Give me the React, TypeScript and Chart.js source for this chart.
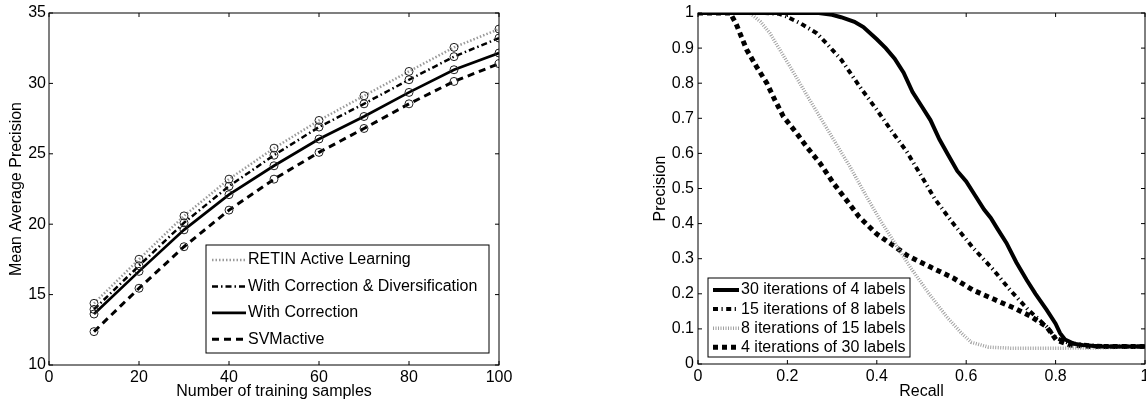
import { useEffect, useRef } from "react";
import { Chart, registerables } from "chart.js";

Chart.register(...registerables);

// ---------- Left chart data ----------
const trainSamples = [10, 20, 30, 40, 50, 60, 70, 80, 90, 100];
const retinMAP = [14.38, 17.51, 20.59, 23.2, 25.4, 27.37, 29.12, 30.85, 32.56, 33.86];
const corrDivMAP = [13.95, 17.05, 20.1, 22.7, 24.9, 26.9, 28.55, 30.26, 31.9, 33.22];
const corrMAP = [13.62, 16.65, 19.6, 22.1, 24.15, 26.05, 27.65, 29.36, 30.97, 32.16];
const svmMAP = [12.37, 15.45, 18.4, 21.0, 23.2, 25.1, 26.8, 28.55, 30.14, 31.4];
const leftLabels = [
  "RETIN Active Learning",
  "With Correction & Diversification",
  "With Correction",
  "SVMactive",
];
const leftXTicks = [0, 20, 40, 60, 80, 100];
const leftYTicks = [10, 15, 20, 25, 30, 35];

// ---------- Right chart data ----------
const recall30x4 = [0, 0.1, 0.2, 0.27, 0.3, 0.32, 0.35, 0.37, 0.4, 0.42, 0.44, 0.46, 0.48, 0.5, 0.52, 0.54, 0.56, 0.58, 0.6, 0.62, 0.64, 0.655, 0.67, 0.69, 0.712, 0.735, 0.755, 0.78, 0.8, 0.81, 0.821, 0.84, 0.86, 0.9, 0.95, 1.0];
const prec30x4 = [1, 1, 1, 1, 0.995, 0.988, 0.975, 0.96, 0.925, 0.9, 0.87, 0.83, 0.775, 0.735, 0.695, 0.64, 0.595, 0.55, 0.52, 0.48, 0.44, 0.416, 0.385, 0.345, 0.29, 0.24, 0.2, 0.154, 0.115, 0.088, 0.07, 0.058, 0.054, 0.05, 0.05, 0.05];
const recall15x8 = [0, 0.1, 0.15, 0.18, 0.198, 0.23, 0.266, 0.29, 0.321, 0.362, 0.4, 0.437, 0.467, 0.5, 0.53, 0.571, 0.616, 0.661, 0.698, 0.739, 0.76, 0.78, 0.8, 0.83, 0.87, 0.92, 1.0];
const prec15x8 = [1, 1, 1, 0.998, 0.99, 0.97, 0.942, 0.91, 0.866, 0.79, 0.724, 0.657, 0.605, 0.535, 0.47, 0.4, 0.33, 0.268, 0.211, 0.154, 0.13, 0.106, 0.075, 0.06, 0.054, 0.05, 0.05];
const recall8x15 = [0, 0.1, 0.116, 0.14, 0.161, 0.206, 0.25, 0.295, 0.34, 0.377, 0.41, 0.44, 0.478, 0.517, 0.556, 0.588, 0.611, 0.65, 0.7, 0.8, 0.9, 1.0];
const prec8x15 = [1, 1, 1, 0.975, 0.942, 0.847, 0.752, 0.657, 0.562, 0.477, 0.405, 0.345, 0.27, 0.2, 0.135, 0.09, 0.062, 0.048, 0.045, 0.045, 0.046, 0.05];
const recall4x30 = [0, 0.05, 0.072, 0.085, 0.109, 0.131, 0.154, 0.172, 0.191, 0.221, 0.243, 0.273, 0.303, 0.329, 0.36, 0.4, 0.44, 0.467, 0.519, 0.571, 0.616, 0.661, 0.706, 0.743, 0.78, 0.802, 0.832, 0.88, 0.95, 1.0];
const prec4x30 = [1, 1, 1, 0.97, 0.895, 0.847, 0.8, 0.752, 0.705, 0.657, 0.619, 0.572, 0.515, 0.472, 0.42, 0.37, 0.335, 0.31, 0.277, 0.245, 0.21, 0.185, 0.16, 0.137, 0.106, 0.068, 0.054, 0.05, 0.05, 0.05];
const rightLabels = [
  "30 iterations of 4 labels",
  "15 iterations of 8 labels",
  "8 iterations of 15 labels",
  "4 iterations of 30 labels",
];
const rightXTicks = [0, 0.2, 0.4, 0.6, 0.8, 1];
const rightYTicks = [0, 0.1, 0.2, 0.3, 0.4, 0.5, 0.6, 0.7, 0.8, 0.9, 1];

const FONT = "'Liberation Sans', Arial, Helvetica, sans-serif";
Chart.defaults.font.family = FONT;
Chart.defaults.font.size = 16;
Chart.defaults.color = "#000";

const pts = (xs: number[], ys: number[]) => xs.map((x, i) => ({ x, y: ys[i] }));

const framePlugin = {
  id: "frame",
  afterDraw(chart: any) {
    const { ctx, chartArea: a, scales } = chart;
    const L = 4;
    ctx.save();
    ctx.strokeStyle = "#000";
    ctx.lineWidth = 1;
    ctx.beginPath();
    scales.x.ticks.forEach((t: any) => {
      const px = scales.x.getPixelForValue(t.value);
      ctx.moveTo(px, a.bottom);
      ctx.lineTo(px, a.bottom - L);
      ctx.moveTo(px, a.top);
      ctx.lineTo(px, a.top + L);
    });
    scales.y.ticks.forEach((t: any) => {
      const py = scales.y.getPixelForValue(t.value);
      ctx.moveTo(a.left, py);
      ctx.lineTo(a.left + L, py);
      ctx.moveTo(a.right, py);
      ctx.lineTo(a.right - L, py);
    });
    ctx.stroke();
    ctx.strokeRect(a.left, a.top, a.right - a.left, a.bottom - a.top);
    ctx.restore();
  },
};

const boxLegendPlugin = {
  id: "boxLegend",
  afterDatasetsDraw(chart: any, _args: any, opts: any) {
    if (!opts || !opts.w) return;
    const { ctx, chartArea: a } = chart;
    const x0 = a.left + opts.dx;
    const y0 = a.top + opts.dy;
    ctx.save();
    ctx.fillStyle = "#fff";
    ctx.fillRect(x0, y0, opts.w, opts.h);
    ctx.strokeStyle = "#000";
    ctx.lineWidth = 1;
    ctx.setLineDash([]);
    ctx.strokeRect(x0, y0, opts.w, opts.h);
    chart.data.datasets.forEach((ds: any, i: number) => {
      const cy = y0 + opts.first + i * opts.rowH;
      ctx.save();
      ctx.strokeStyle = ds.borderColor;
      ctx.lineWidth = ds.borderWidth;
      ctx.setLineDash(ds.borderDash || []);
      ctx.beginPath();
      ctx.moveTo(x0 + opts.sampleX, cy);
      ctx.lineTo(x0 + opts.sampleX + opts.sampleW, cy);
      ctx.stroke();
      ctx.restore();
      ctx.fillStyle = "#000";
      ctx.font = `16px ${FONT}`;
      ctx.textBaseline = "middle";
      ctx.textAlign = "left";
      ctx.fillText(ds.label, x0 + opts.textX, cy);
    });
    ctx.restore();
  },
};

function makeScales(cfg: {
  xMin: number; xMax: number; yMin: number; yMax: number;
  xTicks: number[]; yTicks: number[];
  yWidth: number; xHeight: number;
  xTitle: string; yTitle: string; yTitlePad: number; yTickPad: number;
}) {
  return {
    x: {
      type: "linear" as const,
      min: cfg.xMin,
      max: cfg.xMax,
      grid: { display: false, drawTicks: false },
      border: { display: false },
      ticks: { padding: 3, autoSkip: false, maxRotation: 0, callback: (v: any) => String(v) },
      afterBuildTicks: (s: any) => { s.ticks = cfg.xTicks.map((v) => ({ value: v })); },
      afterFit: (s: any) => { s.height = cfg.xHeight; s.paddingLeft = 0; s.paddingRight = 0; },
      title: { display: true, text: cfg.xTitle, padding: { top: 0, bottom: 4 } },
    },
    y: {
      type: "linear" as const,
      min: cfg.yMin,
      max: cfg.yMax,
      grid: { display: false, drawTicks: false },
      border: { display: false },
      ticks: { padding: cfg.yTickPad, autoSkip: false, callback: (v: any) => String(v) },
      afterBuildTicks: (s: any) => { s.ticks = cfg.yTicks.map((v) => ({ value: v })); },
      afterFit: (s: any) => { s.width = cfg.yWidth; s.paddingTop = 0; s.paddingBottom = 0; },
      title: { display: true, text: cfg.yTitle, padding: { top: cfg.yTitlePad, bottom: 0 } },
    },
  };
}

function LeftChart() {
  const ref = useRef<HTMLCanvasElement>(null);
  useEffect(() => {
    if (!ref.current) return;
    const marker = {
      pointRadius: 4,
      pointBorderColor: "#222",
      pointBackgroundColor: "rgba(0,0,0,0)",
      pointBorderWidth: 1,
      tension: 0,
      fill: false,
    };
    const chart = new Chart(ref.current, {
      type: "line",
      data: {
        datasets: [
          { label: leftLabels[0], data: pts(trainSamples, retinMAP), borderColor: "#9a9a9a", borderWidth: 2.5, borderDash: [1.5, 2], ...marker },
          { label: leftLabels[1], data: pts(trainSamples, corrDivMAP), borderColor: "#000", borderWidth: 2.5, borderDash: [6, 3, 1.5, 3], ...marker },
          { label: leftLabels[2], data: pts(trainSamples, corrMAP), borderColor: "#000", borderWidth: 2.7, ...marker },
          { label: leftLabels[3], data: pts(trainSamples, svmMAP), borderColor: "#000", borderWidth: 3, borderDash: [7, 5], ...marker },
        ],
      },
      options: {
        responsive: false,
        animation: false,
        layout: { padding: { left: 0, top: 13, right: 21, bottom: 0 } },
        plugins: {
          legend: { display: false },
          tooltip: { enabled: false },
          boxLegend: { dx: 157, dy: 232, w: 283, h: 108, first: 15, rowH: 26.4, sampleX: 6, sampleW: 34, textX: 42 },
        } as any,
        scales: makeScales({
          xMin: 0, xMax: 100, yMin: 10, yMax: 35,
          xTicks: leftXTicks, yTicks: leftYTicks,
          yWidth: 49, xHeight: 40,
          xTitle: "Number of training samples", yTitle: "Mean Average Precision",
          yTitlePad: 7, yTickPad: 3,
        }) as any,
      },
      plugins: [framePlugin, boxLegendPlugin],
    });
    return () => chart.destroy();
  }, []);
  return (
    <canvas
      ref={ref}
      width={520}
      height={405}
      style={{ position: "absolute", left: 0, top: 0, width: 520, height: 405 }}
    />
  );
}

function RightChart() {
  const ref = useRef<HTMLCanvasElement>(null);
  useEffect(() => {
    if (!ref.current) return;
    const base = { pointRadius: 0, tension: 0, fill: false };
    const chart = new Chart(ref.current, {
      type: "line",
      data: {
        datasets: [
          { label: rightLabels[0], data: pts(recall30x4, prec30x4), borderColor: "#000", borderWidth: 4, ...base },
          { label: rightLabels[1], data: pts(recall15x8, prec15x8), borderColor: "#000", borderWidth: 4, borderDash: [5, 3.5, 1.2, 3.5], ...base },
          { label: rightLabels[2], data: pts(recall8x15, prec8x15), borderColor: "#a0a0a0", borderWidth: 3.5, borderDash: [1, 1.5], ...base },
          { label: rightLabels[3], data: pts(recall4x30, prec4x30), borderColor: "#000", borderWidth: 5, borderDash: [5, 4], ...base },
        ],
      },
      options: {
        responsive: false,
        animation: false,
        layout: { padding: { left: 0, top: 13, right: 1, bottom: 0 } },
        plugins: {
          legend: { display: false },
          tooltip: { enabled: false },
          boxLegend: { dx: 10, dy: 265, w: 202, h: 79, first: 12, rowH: 19.1, sampleX: 5, sampleW: 26, textX: 33 },
        } as any,
        scales: makeScales({
          xMin: 0, xMax: 1, yMin: 0, yMax: 1,
          xTicks: rightXTicks, yTicks: rightYTicks,
          yWidth: 58, xHeight: 41,
          xTitle: "Recall", yTitle: "Precision",
          yTitlePad: 11.4, yTickPad: 4,
        }) as any,
      },
      plugins: [framePlugin, boxLegendPlugin],
    });
    return () => chart.destroy();
  }, []);
  return (
    <canvas
      ref={ref}
      width={506}
      height={405}
      style={{ position: "absolute", left: 640, top: 0, width: 506, height: 405 }}
    />
  );
}

export default function App() {
  return (
    <div
      style={{
        position: "fixed",
        left: 0,
        top: 0,
        width: 1146,
        height: 405,
        background: "#fff",
        overflow: "hidden",
      }}
    >
      <LeftChart />
      <RightChart />
    </div>
  );
}
